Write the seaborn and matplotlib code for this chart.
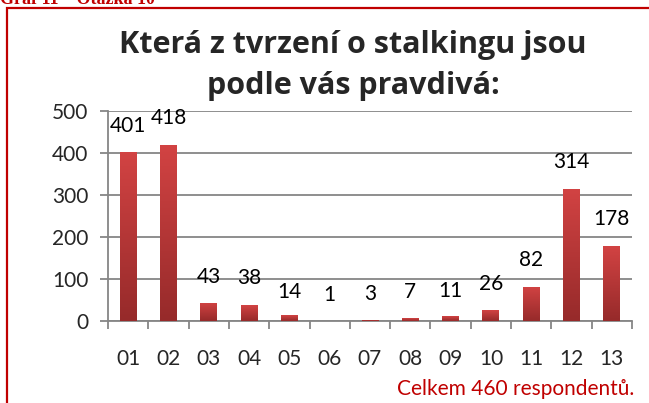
import numpy as np
import matplotlib
matplotlib.use("Agg")
import matplotlib.pyplot as plt
import seaborn as sns
from matplotlib.colors import LinearSegmentedColormap
from matplotlib.patches import Rectangle

# data
categories = ["01", "02", "03", "04", "05", "06", "07", "08", "09", "10", "11", "12", "13"]
counts = [401, 418, 43, 38, 14, 1, 3, 7, 11, 26, 82, 314, 178]
# where the value labels sit (data units)
label_y = [464, 483, 105, 102, 69, 62, 64, 69, 71, 88, 145, 378, 243]
y_ticks = [0, 100, 200, 300, 400, 500]

sns.set_theme(style="white")
plt.rcParams["font.family"] = ["Lato", "DejaVu Sans"]

RED = "#c00000"
GRID = "#868686"

fig = plt.figure(figsize=(6.49, 4.03), dpi=100)
ax = fig.add_axes([108 / 649, 1 - 321 / 403, 524 / 649, 210.3 / 403])

sns.barplot(x=categories, y=counts, color="#c23838", width=0.42, ax=ax,
            saturation=1, zorder=3)

# gradient fill on each bar
cmap = LinearSegmentedColormap.from_list("bar", ["#962a2a", "#d24343"])
grad = np.linspace(0, 1, 256).reshape(-1, 1)
for p in ax.patches:
    x0, y0 = p.get_x(), p.get_y()
    w, h = p.get_width(), p.get_height()
    if h <= 0:
        continue
    im = ax.imshow(grad, cmap=cmap, origin="lower", aspect="auto",
                   extent=[x0, x0 + w, y0, y0 + h], zorder=4)
    im.set_clip_path(p)
    p.set_alpha(0)

ax.set_xlim(-0.5, len(categories) - 0.5)
ax.set_ylim(0, 500)
ax.set_yticks(y_ticks)
ax.yaxis.grid(True, color=GRID, linewidth=1.3, zorder=0)
ax.set_axisbelow(True)

for s in ["top", "right"]:
    ax.spines[s].set_visible(False)
for s in ["left", "bottom"]:
    ax.spines[s].set_color(GRID)
    ax.spines[s].set_linewidth(1.3)

ax.tick_params(axis="y", length=6, width=1.3, color=GRID, pad=8,
               labelsize=15, left=True)
ax.tick_params(axis="x", which="major", length=0, pad=20, labelsize=15)
ax.set_xticks(np.arange(-0.5, len(categories)), minor=True)
ax.tick_params(axis="x", which="minor", length=6, width=1.3, color=GRID,
               bottom=True)
ax.set_xlabel("")
ax.set_ylabel("")

for i, (v, ly) in enumerate(zip(counts, label_y)):
    ax.text(i, ly, str(v), ha="center", va="center", fontsize=15,
            color="black", zorder=5)

# title
title_font = dict(ha="center", va="baseline", fontsize=22, fontweight="bold",
                  family=["Open Sans", "DejaVu Sans"])
fig.text(353 / 649, 1 - 53 / 403, "Která z tvrzení o stalkingu jsou", **title_font)
fig.text(353 / 649, 1 - 94 / 403, "podle vás pravdivá:", **title_font)

# footer
fig.text(634 / 649, 1 - 395 / 403, "Celkem 460 respondentů.",
         ha="right", va="baseline", fontsize=15, color=RED)

# caption above the frame, mostly cut off as in the source
fig.text(0.0, 1 - 4 / 403, "Graf 11 – Otázka 10", ha="left", va="baseline",
         fontsize=13, fontweight="bold", color=RED,
         family=["Liberation Serif", "DejaVu Serif"])

# red frame
fig.add_artist(Rectangle((7 / 649, -0.05), 1.2, 1 - 8 / 403 + 0.05,
                         transform=fig.transFigure, fill=False,
                         edgecolor=RED, linewidth=1.6))

fig.savefig("out.png", dpi=100)
